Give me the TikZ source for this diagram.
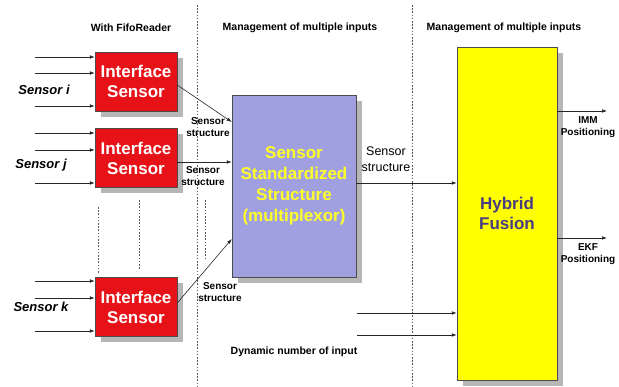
\documentclass[tikz,border=0pt]{standalone}
\usepackage{fontspec}
\setmainfont{Liberation Sans}
\usetikzlibrary{arrows.meta,shadows}
\definecolor{boxred}{RGB}{230,18,24}
\definecolor{lav}{RGB}{160,160,224}
\definecolor{fusionyellow}{RGB}{255,255,0}
\definecolor{fusiontext}{RGB}{72,60,130}
\definecolor{shadowgray}{RGB}{182,182,182}
\definecolor{stdyellow}{RGB}{255,255,40}
\begin{document}
\begin{tikzpicture}[x=1pt,y=-1pt,
  arr/.style={-{Latex[length=5pt,width=3.6pt]}, line width=0.6pt, draw=black!85},
  shad/.style={drop shadow={shadow xshift=6pt,shadow yshift=-6pt,fill=shadowgray,opacity=1}},
  guide/.style={draw=black!65, line width=0.5pt, dash pattern=on 1.6pt off 1.6pt},
  redbox/.style={shad, draw=black!70, line width=0.5pt, fill=boxred, text=white,
    minimum width=82pt, minimum height=59pt, align=center, inner sep=0pt,
    font=\fontsize{17}{20}\selectfont\bfseries},
  stdbox/.style={shad, draw=black!70, line width=0.5pt, fill=lav, text=stdyellow,
    minimum width=124pt, minimum height=182pt, align=center, inner sep=0pt,
    font=\fontsize{17}{21}\selectfont\bfseries},
  fusbox/.style={shad, draw=black!70, line width=0.5pt, fill=fusionyellow, text=fusiontext,
    minimum width=100pt, minimum height=333pt, align=center, inner sep=0pt,
    font=\fontsize{17}{20}\selectfont\bfseries},
  hdr/.style={font=\fontsize{10.5}{12}\selectfont\bfseries, inner sep=0pt},
  sens/.style={font=\fontsize{13}{15}\selectfont\bfseries\itshape, inner sep=0pt},
  small/.style={font=\fontsize{10}{12}\selectfont\bfseries, align=center, inner sep=0pt},
  big/.style={font=\fontsize{12.5}{16}\selectfont, align=center, inner sep=0pt}
]
\useasboundingbox (0,0) rectangle (619,387);
\fill[white] (0,0) rectangle (619,387);

% guide lines
\draw[guide] (197,5) -- (197,387);
\draw[guide] (412,5) -- (412,387);
\draw[guide] (98,207) -- (98,273);
\draw[guide] (139,200) -- (139,270);
\draw[guide] (205,200) -- (205,259);

% headers
\node[hdr] (h1) at (131,28) {With FifoReader};
\node[hdr] (h2) at (300,28) {Management of multiple inputs};
\node[hdr] (h3) at (504,28) {Management of multiple inputs};

% boxes
\node[redbox] (b1) at (136,81.5) {Interface\\Sensor};
\node[redbox] (b2) at (136,158) {Interface\\Sensor};
\node[redbox] (b3) at (136,307) {Interface\\Sensor};
\node[stdbox] (std) at (294,186) {Sensor\\Standardized\\Structure\\(multiplexor)};
\node[fusbox] (fus) at (507,213.5) {Hybrid\\Fusion};

% sensor labels
\node[sens] (si) at (44,90) {Sensor i};
\node[sens] (sj) at (41,165) {Sensor j};
\node[sens] (sk) at (41,307) {Sensor k};

% inputs
\foreach \yy in {57,73,106} \draw[arr] (35,\yy) -- (b1.west |- 0,\yy);
\foreach \yy in {133,150,183} \draw[arr] (35,\yy) -- (b2.west |- 0,\yy);
\foreach \yy in {281,298,331} \draw[arr] (35,\yy) -- (b3.west |- 0,\yy);

% to standardized structure
\draw[arr] (b1.east |- 0,85) -- (std.west |- 0,122);
\draw[arr] (b2.east |- 0,162) -- (std.west |- 0,162);
\draw[arr] (b3.east |- 0,303) -- (std.west |- 0,239);

\node[small] (l1) at (208,127) {Sensor\\structure};
\node[small] (l2) at (203,176.5) {Sensor\\structure};
\node[small] (l3) at (220,292.5) {Sensor\\structure};

% to fusion
\draw[arr] (std.east |- 0,183) -- (fus.west |- 0,183);
\node[big] (l4) at (386,159) {Sensor\\structure};

\coordinate (in1) at (357,313);
\coordinate (in2) at (357,335);
\draw[arr] (in1) -- (fus.west |- in1);
\draw[arr] (in2) -- (fus.west |- in2);
\node[hdr] (dyn) at (294,352) {Dynamic number of input};

% outputs
\coordinate (o1) at (607,111);
\coordinate (o2) at (607,238);
\draw[arr] (fus.east |- o1) -- (o1);
\draw[arr] (fus.east |- o2) -- (o2);
\node[small] (imm) at (588,127) {IMM\\Positioning};
\node[small] (ekf) at (588,254) {EKF\\Positioning};
\end{tikzpicture}
\end{document}
